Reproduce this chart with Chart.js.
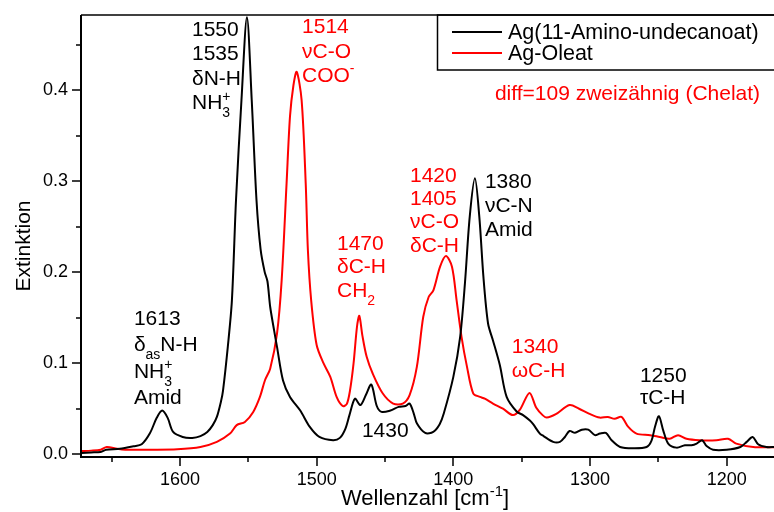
<!DOCTYPE html>
<html>
<head>
<meta charset="utf-8">
<script src="https://cdn.jsdelivr.net/npm/chart.js@4.4.1/dist/chart.umd.min.js"></script>
<style>
  html, body { margin: 0; padding: 0; background: #fff; }
  #wrap { width: 774px; height: 512px; }
</style>
</head>
<body>
<div id="wrap"><canvas id="spec"></canvas></div>
<script>
/* ── spectra: wavenumber [cm-1] / extinction ── */
const amidWn  = [1672, 1665, 1658, 1654, 1644, 1634, 1628, 1622, 1617, 1613, 1609, 1605, 1598, 1591, 1585, 1580,
                 1576, 1573, 1570, 1568.5, 1565, 1562, 1559, 1555, 1551, 1547.5, 1544, 1541, 1538, 1536, 1534,
                 1531, 1529, 1524.6, 1519.5, 1512, 1505, 1498, 1488, 1483, 1479, 1476, 1472, 1468, 1464, 1460,
                 1456, 1452.5, 1446, 1440, 1435, 1432, 1429, 1426.6, 1420.6, 1414.7, 1410, 1407, 1400, 1395,
                 1391.5, 1388, 1384.2, 1381, 1378, 1374.6, 1371, 1366, 1361, 1353.7, 1349, 1344, 1341.6, 1336.7,
                 1334, 1327, 1322, 1318.4, 1315, 1311, 1306, 1301.3, 1296.4, 1292.8, 1288.4, 1284.2, 1278,
                 1268.4, 1258.6, 1255, 1252.5, 1249.6, 1246.4, 1242.8, 1236.7, 1230.6, 1225.7, 1222, 1218,
                 1214.7, 1210, 1200, 1190, 1185.4, 1181, 1177, 1171, 1165];
const amidExt = [0.0015, 0.002, 0.0026, 0.005, 0.006, 0.0088, 0.011, 0.023, 0.040, 0.048, 0.040, 0.0245, 0.019, 0.018, 0.020, 0.0245,
                 0.032, 0.041, 0.058, 0.070, 0.118, 0.169, 0.279, 0.389, 0.480, 0.389, 0.279, 0.225, 0.200, 0.190, 0.162,
                 0.135, 0.118, 0.081, 0.063, 0.048, 0.030, 0.019, 0.0154, 0.018, 0.028, 0.043, 0.061, 0.054, 0.065, 0.0766,
                 0.053, 0.0465, 0.048, 0.052, 0.053, 0.0557, 0.045, 0.0337, 0.0234, 0.0245, 0.033, 0.0447, 0.085, 0.129,
                 0.188, 0.261, 0.303, 0.261, 0.195, 0.1436, 0.125, 0.098, 0.063, 0.047, 0.043, 0.037, 0.033, 0.0227,
                 0.020, 0.0136, 0.0136, 0.019, 0.0256, 0.0236, 0.027, 0.027, 0.021, 0.0227, 0.0234, 0.0154, 0.008,
                 0.0066, 0.008, 0.015, 0.030, 0.0418, 0.026, 0.0117, 0.0073, 0.0099, 0.0099, 0.0117, 0.0154,
                 0.009, 0.005, 0.005, 0.008, 0.0136, 0.019, 0.011, 0.008, 0.008];

const oleatWn  = [1672.6, 1665, 1658, 1653.6, 1646, 1640, 1620, 1602, 1585, 1573, 1563.4, 1558.5, 1552.5, 1546.4,
                  1541.5, 1537.8, 1534, 1529, 1525.6, 1522, 1519.5, 1517, 1514.6, 1511, 1508, 1506.4, 1504, 1500,
                  1495, 1490, 1485.4, 1481, 1478, 1475.6, 1473, 1470.5, 1468.8, 1466.5, 1463.4, 1459, 1451.6, 1444,
                  1437, 1432, 1426.7, 1422, 1418, 1414.6, 1409.7, 1405.4, 1401, 1397.6, 1394, 1390, 1385.4, 1380.5,
                  1377, 1371, 1363.7, 1356.4, 1351.3, 1344.3, 1339.3, 1334.7, 1331.7, 1325, 1315, 1308, 1300.8,
                  1293, 1287, 1282, 1277, 1272, 1266, 1256, 1249, 1241.7, 1235.6, 1229.4, 1220, 1207.5, 1199, 1193,
                  1180.6, 1165];
const oleatExt = [0.0036, 0.004, 0.005, 0.008, 0.006, 0.005, 0.005, 0.0055, 0.008, 0.0136, 0.0227, 0.032, 0.0355, 0.0465,
                  0.063, 0.0813, 0.094, 0.1326, 0.191, 0.2975, 0.371, 0.405, 0.420, 0.389, 0.2975, 0.224, 0.169, 0.120,
                  0.100, 0.085, 0.063, 0.053, 0.055, 0.070, 0.0997, 0.140, 0.152, 0.130, 0.107, 0.0887, 0.0667, 0.0557,
                  0.0557, 0.065, 0.096, 0.151, 0.173, 0.180, 0.206, 0.2176, 0.206, 0.169, 0.129, 0.096, 0.0667, 0.063,
                  0.061, 0.0557, 0.050, 0.043, 0.049, 0.0674, 0.051, 0.043, 0.0403, 0.044, 0.054, 0.050, 0.0447,
                  0.0403, 0.041, 0.039, 0.041, 0.030, 0.0227, 0.021, 0.019, 0.017, 0.021, 0.017, 0.0154, 0.0154, 0.017, 0.0117,
                  0.008, 0.0077];

/* ── axis ticks ── */
const xMajor = [1600, 1500, 1400, 1300, 1200];
const xMinor = [1650, 1550, 1450, 1350, 1250];
const yMajor = [0.0, 0.1, 0.2, 0.3, 0.4];
const yMinor = [0.05, 0.15, 0.25, 0.35, 0.45];

const FONT = '"Liberation Sans", Arial, sans-serif';

/* peak labels, anchored at (wavenumber, extinction) of the first baseline */
const notes = [
  { wn: 1591.2, ext: 0.4594, color: '#000', lh: 24.5, lines: ['1550', '1535', 'δN-H', 'NH_{3}^{+}'] },
  { wn: 1510.7, ext: 0.4623, color: '#f00', lh: 24.2, lines: ['1514', 'νC-O', 'COO^{-}'] },
  { wn: 1369.6, ext: 0.3891, color: '#f00', lh: 24,   lines: ['diff=109 zweizähnig (Chelat)'] },
  { wn: 1431.7, ext: 0.2994, color: '#f00', lh: 23.3, lines: ['1420', '1405', 'νC-O', 'δC-H'] },
  { wn: 1376.9, ext: 0.2921, color: '#000', lh: 23.9, lines: ['1380', 'νC-N', 'Amid'] },
  { wn: 1485.1, ext: 0.2244, color: '#f00', lh: 23.4, lines: ['1470', 'δC-H', 'CH_{2}'] },
  { wn: 1633.7, ext: 0.1420, color: '#000', lh: 26.3, lines: ['1613', 'δ_{as}N-H', 'NH_{3}^{+}', 'Amid'] },
  { wn: 1466.9, ext: 0.0187, color: '#000', lh: 24,   lines: ['1430'] },
  { wn: 1357.3, ext: 0.1109, color: '#f00', lh: 23.4, lines: ['1340', 'ωC-H'] },
  { wn: 1263.5, ext: 0.0797, color: '#000', lh: 22,   lines: ['1250', 'τC-H'] },
];

/* ── rich text: _{sub} and ^{sup}, a sup right after a sub is stacked on it ── */
function richSegments(str) {
  const out = [];
  const re = /([_^])\{([^}]*)\}/g;
  let last = 0, m;
  while ((m = re.exec(str))) {
    if (m.index > last) out.push({ t: str.slice(last, m.index), mode: 'n' });
    out.push({ t: m[2], mode: m[1] === '_' ? 'sub' : 'sup' });
    last = re.lastIndex;
  }
  if (last < str.length) out.push({ t: str.slice(last), mode: 'n' });
  return out;
}

function drawRich(ctx, str, x, y, size, align) {
  const small = Math.round(size * 0.68);
  const placed = [];
  let cx = 0, prev = null;
  richSegments(str).forEach(s => {
    const fs = s.mode === 'n' ? size : small;
    ctx.font = fs + 'px ' + FONT;
    const w = ctx.measureText(s.t).width;
    let sx = cx;
    if (s.mode === 'sup' && prev && prev.mode === 'sub') { sx = prev.x; cx = Math.max(cx, sx + w); }
    else cx = sx + w;
    const dy = s.mode === 'sub' ? size * 0.38 : s.mode === 'sup' ? -size * 0.42 : 0;
    placed.push({ t: s.t, fs, x: sx, dy });
    prev = { mode: s.mode, x: sx };
  });
  const off = align === 'center' ? -cx / 2 : align === 'right' ? -cx : 0;
  ctx.textAlign = 'left';
  ctx.textBaseline = 'alphabetic';
  placed.forEach(p => {
    ctx.font = p.fs + 'px ' + FONT;
    ctx.fillText(p.t, x + off + p.x, y + p.dy);
  });
}

/* ── frame, ticks, titles, legend and labels ── */
const decorations = {
  id: 'decorations',
  afterDraw(chart) {
    const { ctx, chartArea: a, scales: { x, y } } = chart;
    ctx.save();
    ctx.strokeStyle = '#000';
    ctx.fillStyle = '#000';

    // axes + top border
    ctx.lineWidth = 2;
    ctx.beginPath();
    ctx.moveTo(a.left, a.top); ctx.lineTo(a.left, a.bottom + 1);
    ctx.moveTo(a.left - 1, a.bottom); ctx.lineTo(a.right, a.bottom);
    ctx.stroke();
    ctx.lineWidth = 1.5;
    ctx.beginPath();
    ctx.moveTo(a.left, a.top); ctx.lineTo(a.right, a.top);
    ctx.stroke();

    // tick marks
    ctx.lineWidth = 1.5;
    ctx.beginPath();
    xMajor.forEach(v => { const px = Math.round(x.getPixelForValue(v)); ctx.moveTo(px, a.bottom); ctx.lineTo(px, a.bottom + 9); });
    xMinor.forEach(v => { const px = Math.round(x.getPixelForValue(v)); ctx.moveTo(px, a.bottom); ctx.lineTo(px, a.bottom + 5); });
    yMajor.forEach(v => { const py = Math.round(y.getPixelForValue(v)); ctx.moveTo(a.left, py); ctx.lineTo(a.left - 9, py); });
    yMinor.forEach(v => { const py = Math.round(y.getPixelForValue(v)); ctx.moveTo(a.left, py); ctx.lineTo(a.left - 5, py); });
    ctx.stroke();

    // tick labels
    ctx.font = '18px ' + FONT;
    ctx.textAlign = 'center';
    ctx.textBaseline = 'alphabetic';
    xMajor.forEach(v => ctx.fillText(String(v), x.getPixelForValue(v), a.bottom + 28));
    ctx.textAlign = 'right';
    ctx.textBaseline = 'middle';
    yMajor.forEach(v => ctx.fillText(v.toFixed(1), a.left - 13, y.getPixelForValue(v)));

    // axis titles
    drawRich(ctx, 'Wellenzahl [cm^{-1}]', 425, 505, 22, 'center');
    ctx.save();
    ctx.translate(30, 246);
    ctx.rotate(-Math.PI / 2);
    drawRich(ctx, 'Extinktion', 0, 0, 21, 'center');
    ctx.restore();

    // legend
    ctx.lineWidth = 1.5;
    ctx.strokeRect(437.5, a.top, 400, 55);
    chart.data.datasets.forEach((ds, i) => {
      const ly = a.top + 17 + i * 21;
      ctx.strokeStyle = ds.borderColor;
      ctx.lineWidth = 2;
      ctx.beginPath();
      ctx.moveTo(452, ly); ctx.lineTo(502, ly);
      ctx.stroke();
      ctx.fillStyle = '#000';
      drawRich(ctx, ds.label, 508, ly + 7, 21.5, 'left');
    });

    // peak labels
    notes.forEach(n => {
      const px = x.getPixelForValue(n.wn);
      const py = y.getPixelForValue(n.ext);
      ctx.fillStyle = n.color;
      n.lines.forEach((line, i) => drawRich(ctx, line, px, py + i * n.lh, 21, 'left'));
    });

    ctx.restore();
  }
};

const toPoints = (xs, ys) => xs.map((v, i) => ({ x: v, y: ys[i] }));

new Chart(document.getElementById('spec'), {
  type: 'line',
  data: {
    datasets: [
      { label: 'Ag(11-Amino-undecanoat)', data: toPoints(amidWn, amidExt),
        borderColor: '#000', borderWidth: 2, pointRadius: 0, tension: 0.3, fill: false },
      { label: 'Ag-Oleat', data: toPoints(oleatWn, oleatExt),
        borderColor: '#f00', borderWidth: 2, pointRadius: 0, tension: 0.3, fill: false },
    ]
  },
  options: {
    responsive: true,
    maintainAspectRatio: false,
    animation: false,
    devicePixelRatio: 1,
    layout: { padding: { top: 15, right: 0, bottom: 0, left: 0 } },
    plugins: { legend: { display: false }, tooltip: { enabled: false } },
    scales: {
      x: {
        type: 'linear', reverse: true, min: 1165.4, max: 1672.4,
        grid: { display: false }, ticks: { display: false }, border: { display: false },
        afterFit(s) { s.height = 55; }
      },
      y: {
        min: -0.003, max: 0.4824,
        grid: { display: false }, ticks: { display: false }, border: { display: false },
        afterFit(s) { s.width = 81; }
      }
    }
  },
  plugins: [decorations]
});
</script>
</body>
</html>
